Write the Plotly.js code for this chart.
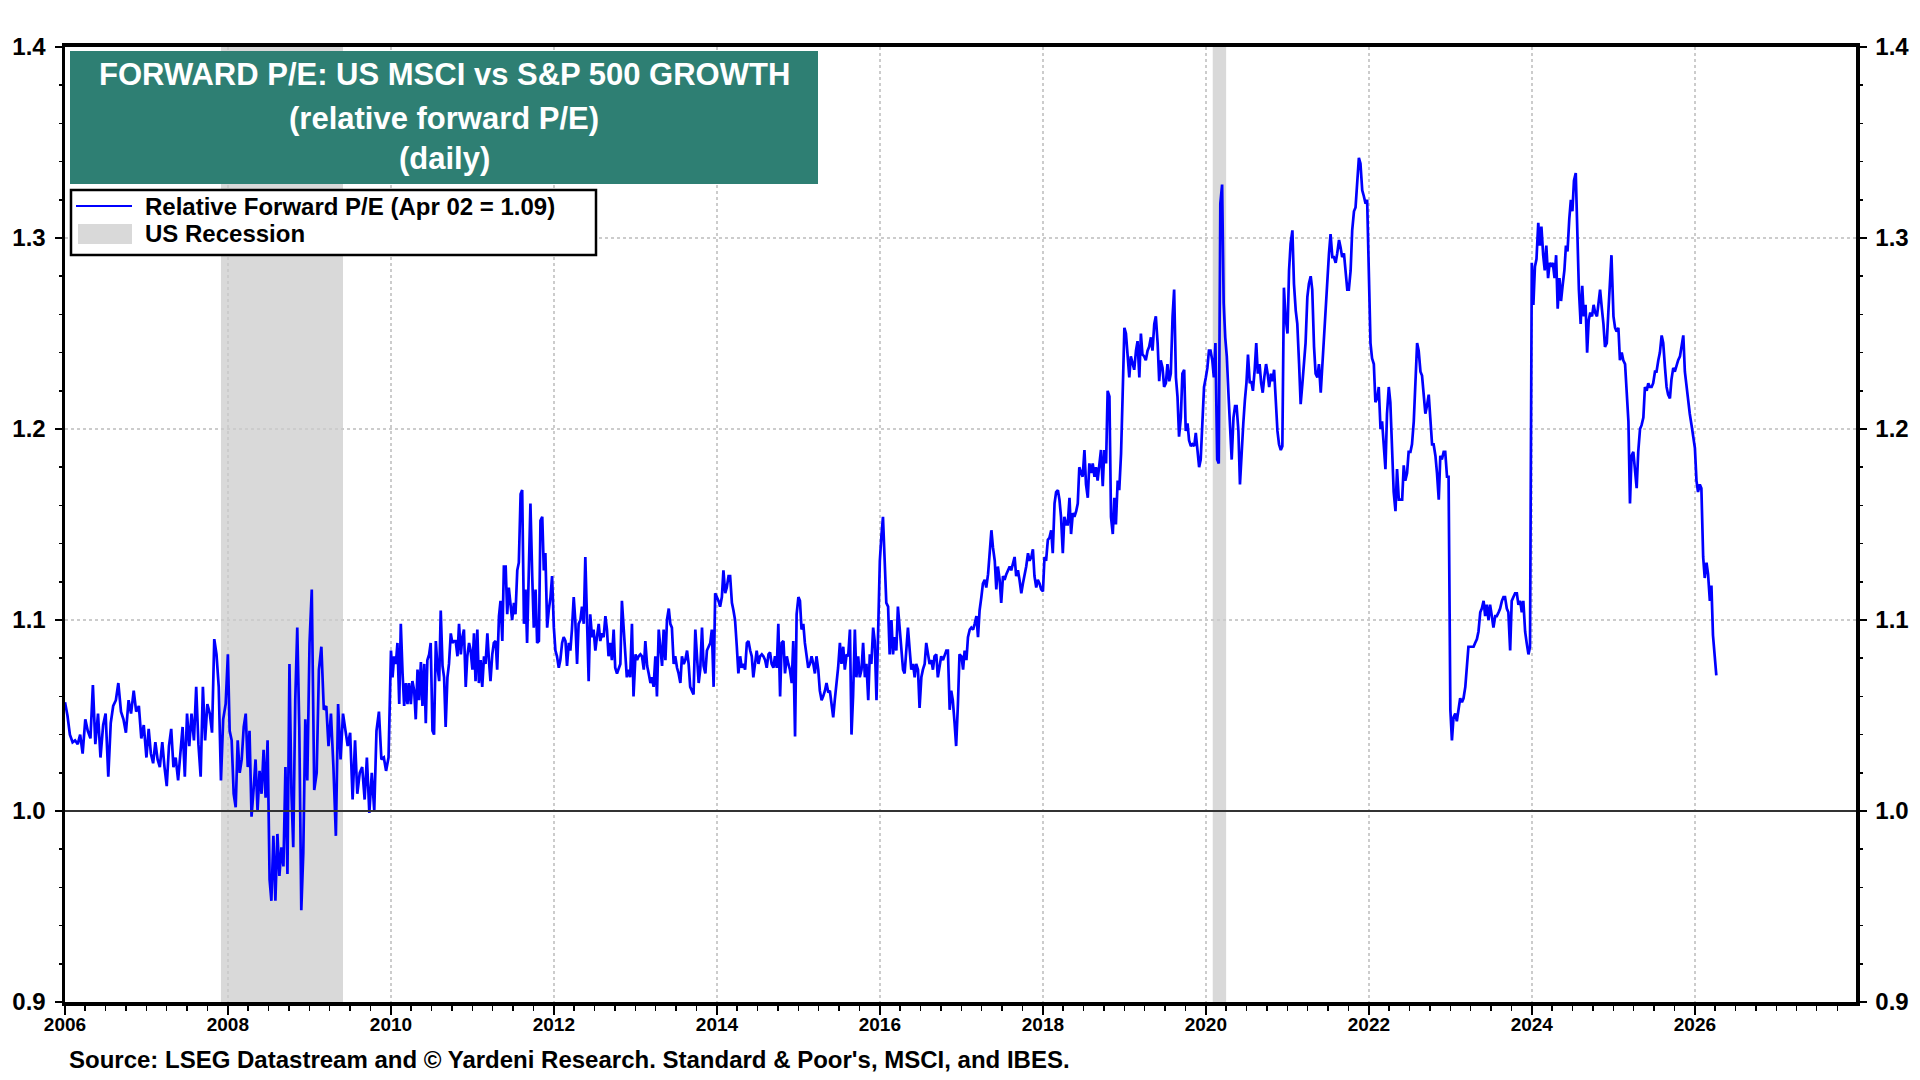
<!DOCTYPE html>
<html>
<head>
<meta charset="utf-8">
<script src="https://cdn.plot.ly/plotly-3.0.1.min.js"></script>
<style>
  html, body { margin: 0; padding: 0; background: #ffffff; }
  #chart { width: 1920px; height: 1080px; }
</style>
</head>
<body>
<div id="chart"></div>
<script>
// Relative forward P/E (roughly weekly samples, each year's
// values spread evenly across that year)
const y2006 = [1.057, 1.050, 1.040, 1.036, 1.037, 1.035, 1.040, 1.030, 1.048, 1.042, 1.038, 1.066, 1.035, 1.051, 1.028, 1.045,
  1.051, 1.018, 1.046, 1.055, 1.058, 1.067, 1.052, 1.048, 1.041, 1.058, 1.051, 1.063, 1.052, 1.055, 1.038, 1.045];
const y2007 = [1.028, 1.043, 1.030, 1.025, 1.036, 1.027, 1.023, 1.036, 1.023, 1.013, 1.034, 1.043, 1.023, 1.028, 1.016, 1.030,
  1.044, 1.018, 1.051, 1.034, 1.051, 1.037, 1.065, 1.035, 1.018, 1.065, 1.037, 1.056, 1.051, 1.041, 1.090, 1.082, 1.065, 1.016,
  1.048, 1.056];
const y2008 = [1.082, 1.042, 1.037, 1.009, 1.002, 1.037, 1.020, 1.027, 1.044, 1.051, 1.023, 1.042, 0.997, 1.011, 1.027, 1.000,
  1.021, 1.009, 1.032, 1.007, 1.037, 0.964, 0.953, 0.987, 0.953, 0.988, 0.966, 0.981, 0.971, 1.023, 0.967, 1.077, 1.009, 0.981,
  1.058, 1.096, 1.044, 0.948, 0.978, 1.048, 1.016];
const y2009 = [1.088, 1.116, 1.011, 1.020, 1.074, 1.086, 1.053, 1.055, 1.034, 1.051, 1.023, 0.987, 1.056, 1.027, 1.051, 1.041,
  1.034, 1.041, 1.006, 1.037, 1.009, 1.020, 1.023, 1.006, 1.028, 0.999, 1.020, 1.000, 1.042, 1.052, 1.027, 1.028, 1.021, 1.028];
const y2010 = [1.084, 1.070, 1.081, 1.077, 1.088, 1.056, 1.098, 1.072, 1.055, 1.067, 1.056, 1.067, 1.056, 1.068, 1.063, 1.048,
  1.074, 1.058, 1.078, 1.055, 1.077, 1.046, 1.079, 1.082, 1.088, 1.042, 1.040, 1.089, 1.076, 1.068, 1.105, 1.076, 1.070, 1.044,
  1.070, 1.077, 1.093, 1.088, 1.089, 1.089, 1.081, 1.098, 1.082, 1.091, 1.095, 1.065, 1.081, 1.088, 1.084];
const y2011 = [1.074, 1.093, 1.068, 1.095, 1.067, 1.079, 1.065, 1.081, 1.077, 1.093, 1.079, 1.068, 1.082, 1.088, 1.089, 1.074,
  1.102, 1.110, 1.089, 1.128, 1.128, 1.103, 1.117, 1.109, 1.100, 1.109, 1.103, 1.126, 1.130, 1.166, 1.168, 1.098, 1.116, 1.088,
  1.126, 1.161, 1.123, 1.096, 1.116, 1.088, 1.089, 1.152, 1.154, 1.126, 1.135, 1.096, 1.105, 1.112, 1.123];
const y2012 = [1.096, 1.084, 1.081, 1.075, 1.079, 1.088, 1.091, 1.089, 1.076, 1.088, 1.084, 1.095, 1.112, 1.100, 1.077, 1.098,
  1.100, 1.107, 1.098, 1.133, 1.100, 1.068, 1.103, 1.091, 1.095, 1.084, 1.091, 1.098, 1.089, 1.093, 1.091, 1.102, 1.095, 1.081,
  1.088, 1.079, 1.095, 1.075, 1.072, 1.075, 1.077, 1.110, 1.095, 1.077, 1.070, 1.074, 1.070, 1.098, 1.060];
const y2013 = [1.082, 1.079, 1.081, 1.082, 1.081, 1.074, 1.089, 1.076, 1.072, 1.067, 1.070, 1.065, 1.081, 1.060, 1.095, 1.086,
  1.076, 1.095, 1.079, 1.100, 1.106, 1.098, 1.096, 1.077, 1.081, 1.075, 1.072, 1.067, 1.081, 1.077, 1.079, 1.084, 1.077, 1.065,
  1.063, 1.061, 1.095, 1.081, 1.067, 1.074, 1.096, 1.076, 1.072, 1.084, 1.086, 1.088, 1.095, 1.065, 1.114];
const y2014 = [1.112, 1.110, 1.107, 1.112, 1.126, 1.114, 1.117, 1.123, 1.123, 1.109, 1.105, 1.100, 1.086, 1.072, 1.081, 1.075,
  1.077, 1.074, 1.088, 1.089, 1.084, 1.081, 1.070, 1.077, 1.084, 1.077, 1.081, 1.082, 1.081, 1.079, 1.075, 1.082, 1.083, 1.077,
  1.075, 1.081, 1.075, 1.098, 1.060, 1.088, 1.089, 1.072, 1.081, 1.077, 1.074, 1.067, 1.089, 1.039, 1.103];
const y2015 = [1.112, 1.110, 1.095, 1.098, 1.088, 1.082, 1.075, 1.077, 1.081, 1.077, 1.072, 1.081, 1.074, 1.063, 1.058, 1.060,
  1.063, 1.067, 1.062, 1.063, 1.056, 1.049, 1.058, 1.067, 1.075, 1.088, 1.077, 1.086, 1.074, 1.082, 1.081, 1.095, 1.040, 1.060,
  1.095, 1.070, 1.081, 1.070, 1.074, 1.088, 1.070, 1.077, 1.058, 1.082, 1.077, 1.096, 1.089, 1.058, 1.091];
const y2016 = [1.131, 1.144, 1.154, 1.130, 1.109, 1.107, 1.082, 1.100, 1.082, 1.091, 1.084, 1.107, 1.096, 1.088, 1.074, 1.072,
  1.084, 1.096, 1.084, 1.074, 1.077, 1.070, 1.077, 1.074, 1.054, 1.070, 1.074, 1.077, 1.088, 1.082, 1.077, 1.079, 1.074, 1.081,
  1.082, 1.070, 1.075, 1.081, 1.079, 1.081, 1.084, 1.084, 1.053, 1.063, 1.058, 1.046, 1.034, 1.056, 1.082];
const y2017 = [1.081, 1.074, 1.084, 1.079, 1.091, 1.095, 1.096, 1.095, 1.098, 1.102, 1.091, 1.105, 1.112, 1.119, 1.121, 1.117,
  1.124, 1.137, 1.147, 1.138, 1.131, 1.116, 1.128, 1.121, 1.109, 1.123, 1.121, 1.124, 1.126, 1.128, 1.126, 1.130, 1.133, 1.123,
  1.126, 1.121, 1.114, 1.119, 1.123, 1.128, 1.135, 1.131, 1.133, 1.137, 1.123, 1.117, 1.121, 1.119, 1.116];
const y2018 = [1.115, 1.133, 1.131, 1.142, 1.143, 1.147, 1.135, 1.161, 1.167, 1.168, 1.163, 1.154, 1.135, 1.154, 1.150, 1.150,
  1.164, 1.145, 1.156, 1.154, 1.157, 1.161, 1.180, 1.177, 1.175, 1.189, 1.171, 1.164, 1.182, 1.177, 1.182, 1.175, 1.180, 1.173,
  1.180, 1.189, 1.170, 1.189, 1.182, 1.220, 1.217, 1.154, 1.145, 1.164, 1.150, 1.173, 1.168, 1.187, 1.217];
const y2019 = [1.253, 1.250, 1.241, 1.227, 1.238, 1.234, 1.231, 1.241, 1.246, 1.227, 1.250, 1.239, 1.238, 1.236, 1.241, 1.243,
  1.248, 1.241, 1.255, 1.259, 1.245, 1.225, 1.236, 1.232, 1.222, 1.224, 1.234, 1.225, 1.229, 1.259, 1.273, 1.227, 1.217, 1.196,
  1.206, 1.229, 1.231, 1.199, 1.203, 1.194, 1.191, 1.192, 1.191, 1.198, 1.189, 1.180, 1.184, 1.205, 1.222];
const y2020 = [1.227, 1.232, 1.241, 1.241, 1.236, 1.227, 1.245, 1.184, 1.182, 1.318, 1.328, 1.266, 1.248, 1.238, 1.217, 1.203,
  1.184, 1.206, 1.212, 1.212, 1.199, 1.171, 1.189, 1.203, 1.215, 1.224, 1.239, 1.224, 1.225, 1.220, 1.231, 1.245, 1.229, 1.234,
  1.224, 1.219, 1.227, 1.234, 1.229, 1.222, 1.229, 1.225, 1.231, 1.210, 1.199, 1.192, 1.189, 1.191, 1.274, 1.259];
const y2021 = [1.250, 1.283, 1.297, 1.304, 1.276, 1.262, 1.255, 1.234, 1.213, 1.224, 1.236, 1.245, 1.269, 1.276, 1.280, 1.273,
  1.243, 1.229, 1.227, 1.234, 1.219, 1.234, 1.248, 1.262, 1.276, 1.292, 1.302, 1.290, 1.290, 1.287, 1.292, 1.299, 1.295, 1.290,
  1.292, 1.281, 1.273, 1.273, 1.283, 1.304, 1.314, 1.316, 1.330, 1.342, 1.339, 1.325, 1.322, 1.318, 1.320];
const y2022 = [1.281, 1.245, 1.237, 1.234, 1.214, 1.216, 1.222, 1.200, 1.204, 1.192, 1.179, 1.208, 1.222, 1.214, 1.192, 1.167,
  1.157, 1.179, 1.163, 1.163, 1.163, 1.181, 1.173, 1.177, 1.188, 1.188, 1.192, 1.204, 1.224, 1.245, 1.241, 1.230, 1.228, 1.216,
  1.208, 1.212, 1.218, 1.206, 1.192, 1.192, 1.186, 1.177, 1.163, 1.186, 1.184, 1.188, 1.188, 1.175, 1.175];
const y2023 = [1.053, 1.037, 1.049, 1.051, 1.047, 1.053, 1.059, 1.057, 1.059, 1.065, 1.078, 1.086, 1.086, 1.086, 1.086, 1.088,
  1.090, 1.094, 1.104, 1.106, 1.110, 1.102, 1.108, 1.100, 1.108, 1.102, 1.096, 1.102, 1.102, 1.104, 1.106, 1.110, 1.112, 1.112,
  1.106, 1.104, 1.084, 1.110, 1.112, 1.114, 1.114, 1.108, 1.110, 1.104, 1.110, 1.094, 1.088, 1.082, 1.086];
const y2024 = [1.287, 1.265, 1.285, 1.289, 1.308, 1.296, 1.306, 1.291, 1.283, 1.296, 1.279, 1.287, 1.285, 1.287, 1.279, 1.291,
  1.263, 1.279, 1.267, 1.275, 1.283, 1.296, 1.293, 1.310, 1.320, 1.314, 1.330, 1.334, 1.304, 1.273, 1.255, 1.275, 1.259, 1.265,
  1.240, 1.257, 1.261, 1.259, 1.265, 1.261, 1.259, 1.265, 1.273, 1.263, 1.255, 1.243, 1.245, 1.261, 1.279, 1.291];
const y2025 = [1.259, 1.253, 1.251, 1.253, 1.236, 1.240, 1.236, 1.234, 1.220, 1.204, 1.161, 1.186, 1.188, 1.179, 1.169, 1.188,
  1.200, 1.202, 1.206, 1.222, 1.220, 1.224, 1.222, 1.222, 1.224, 1.230, 1.230, 1.236, 1.240, 1.249, 1.245, 1.232, 1.222, 1.218,
  1.216, 1.226, 1.232, 1.230, 1.234, 1.236, 1.238, 1.243, 1.249, 1.230, 1.222, 1.214, 1.208, 1.202, 1.196];
const y2026 = [1.190, 1.173, 1.167, 1.171, 1.169, 1.133, 1.122, 1.130, 1.124, 1.110, 1.118, 1.092, 1.082, 1.071];

const years = [2006, 2007, 2008, 2009, 2010, 2011, 2012, 2013, 2014, 2015, 2016,
  2017, 2018, 2019, 2020, 2021, 2022, 2023, 2024, 2025, 2026];
const yearly = [y2006, y2007, y2008, y2009, y2010, y2011, y2012, y2013, y2014, y2015, y2016,
  y2017, y2018, y2019, y2020, y2021, y2022, y2023, y2024, y2025, y2026];

// US recessions (NBER)
const recStart = ['2007-12-01', '2020-02-01'];
const recEnd = ['2009-05-31', '2020-04-01'];

const seriesName = 'Relative Forward P/E (Apr 02 = 1.09)';
const recName = 'US Recession';
const titleLines = ['FORWARD P/E: US MSCI vs S&P 500 GROWTH', '(relative forward P/E)', '(daily)'];
const sourceText = "Source: LSEG Datastream and © Yardeni Research. Standard & Poor's, MSCI, and IBES.";

const FONT = 'Liberation Sans, Arial, Helvetica, sans-serif';
const BLUE = '#0000ff';
const TEAL = '#2e7f73';
const SHADE = '#d9d9d9';

// Flatten the yearly lists into dates; the last (partial) year keeps the weekly step
const dates = [];
const values = [];
years.forEach((yr, k) => {
  const vals = yearly[k];
  const n = (k === years.length - 1) ? 49 : vals.length;
  vals.forEach((v, i) => {
    const t = new Date(Date.UTC(yr, 0, 1) + (i / n) * 365.25 * 864e5);
    dates.push(t.toISOString().slice(0, 10));
    values.push(v);
  });
});

const traces = [
  { x: dates, y: values, type: 'scatter', mode: 'lines', name: seriesName,
    line: {color: BLUE, width: 2.7}, showlegend: false, hoverinfo: 'x+y'
  },
  // keeps the right-hand axis alive
  { x: [null], y: [null], yaxis: 'y2', type: 'scatter', mode: 'lines',
    showlegend: false, hoverinfo: 'skip'
  }
];

// plot area in pixels: left 65, right 1856, top 47, bottom 1002
const px = v => (v - 65) / 1791;
const py = v => (1002 - v) / 955;

const shapes = [];
for (let i = 0; i < recStart.length; i++) {
  shapes.push({ type: 'rect', layer: 'below', xref: 'x', yref: 'paper',
    x0: recStart[i], x1: recEnd[i], y0: 0, y1: 1,
    fillcolor: SHADE, line: {width: 0}
  });
}
// 1.0 reference line (solid, on top of the dotted grid)
shapes.push({ type: 'line', layer: 'above', xref: 'paper', yref: 'y',
  x0: 0, x1: 1, y0: 1.0, y1: 1.0, line: {color: '#333333', width: 2}
});
// title box
shapes.push({ type: 'rect', layer: 'above', xref: 'paper', yref: 'paper',
  x0: px(70), x1: px(818), y0: py(184), y1: py(51),
  fillcolor: TEAL, line: {width: 0}
});
// legend box and its keys
shapes.push({ type: 'rect', layer: 'above', xref: 'paper', yref: 'paper',
  x0: px(71), x1: px(596), y0: py(255), y1: py(190),
  fillcolor: '#ffffff', line: {color: '#000000', width: 2.5}
});
shapes.push({ type: 'line', layer: 'above', xref: 'paper', yref: 'paper',
  x0: px(76), x1: px(132), y0: py(206), y1: py(206),
  line: {color: BLUE, width: 2}
});
shapes.push({ type: 'rect', layer: 'above', xref: 'paper', yref: 'paper',
  x0: px(78), x1: px(132), y0: py(244), y1: py(224),
  fillcolor: SHADE, line: {width: 0}
});

const titleY = [75, 118, 159];
const annotations = titleLines.map((t, i) => ({
  text: t, xref: 'paper', yref: 'paper', x: px(444), y: py(titleY[i]),
  xanchor: 'center', yanchor: 'middle', showarrow: false,
  font: {family: FONT, size: 31, color: '#ffffff', weight: 'bold'}
}));
annotations.push({ text: seriesName, xref: 'paper', yref: 'paper', x: px(143), y: py(207),
  xanchor: 'left', yanchor: 'middle', showarrow: false,
  font: {family: FONT, size: 24, color: '#000000', weight: 'bold'}
});
annotations.push({ text: recName, xref: 'paper', yref: 'paper', x: px(143), y: py(234),
  xanchor: 'left', yanchor: 'middle', showarrow: false,
  font: {family: FONT, size: 24, color: '#000000', weight: 'bold'}
});
annotations.push({ text: sourceText, xref: 'paper', yref: 'paper', x: px(67), y: py(1059),
  xanchor: 'left', yanchor: 'middle', showarrow: false,
  font: {family: FONT, size: 24, color: '#000000', weight: 'bold'}
});

const yTicks = {
  range: [0.9, 1.4], dtick: 0.1, tick0: 0.9, tickformat: '.1f', fixedrange: true,
  ticks: 'outside', ticklen: 7, tickwidth: 2, tickcolor: '#000000',
  minor: {dtick: 0.02, ticks: 'outside', ticklen: 3, tickwidth: 1.5, tickcolor: '#000000', showgrid: false},
  showline: true, linecolor: '#000000', linewidth: 3.5,
  tickfont: {family: FONT, size: 24, color: '#000000', weight: 'bold'},
  ticklabelstandoff: 4, zeroline: false
};

const layout = {
  width: 1920, height: 1080,
  margin: {l: 65, r: 64, t: 47, b: 78, pad: 0},
  paper_bgcolor: '#ffffff', plot_bgcolor: '#ffffff',
  showlegend: false,
  xaxis: {
    type: 'date', range: ['2006-01-01', '2027-12-24'],
    tick0: '2006-01-01', dtick: 'M24', tickformat: '%Y',
    ticks: 'outside', ticklen: 9, tickwidth: 2, tickcolor: '#000000',
    minor: {dtick: 'M3', ticks: 'outside', ticklen: 5, tickwidth: 1.5, tickcolor: '#000000', showgrid: false},
    showgrid: true, gridcolor: '#cccccc', griddash: 'dot', gridwidth: 2,
    showline: true, linecolor: '#000000', linewidth: 4, mirror: true,
    tickfont: {family: FONT, size: 19, color: '#000000', weight: 'bold'},
    ticklabelstandoff: -7, zeroline: false
  },
  yaxis: Object.assign({}, yTicks, {
    side: 'left',
    showgrid: true, gridcolor: '#cccccc', griddash: 'dot', gridwidth: 2
  }),
  yaxis2: Object.assign({}, yTicks, {
    side: 'right', overlaying: 'y', showgrid: false
  }),
  shapes: shapes,
  annotations: annotations
};

Plotly.newPlot('chart', traces, layout, {displayModeBar: false, staticPlot: true});
</script>
</body>
</html>
